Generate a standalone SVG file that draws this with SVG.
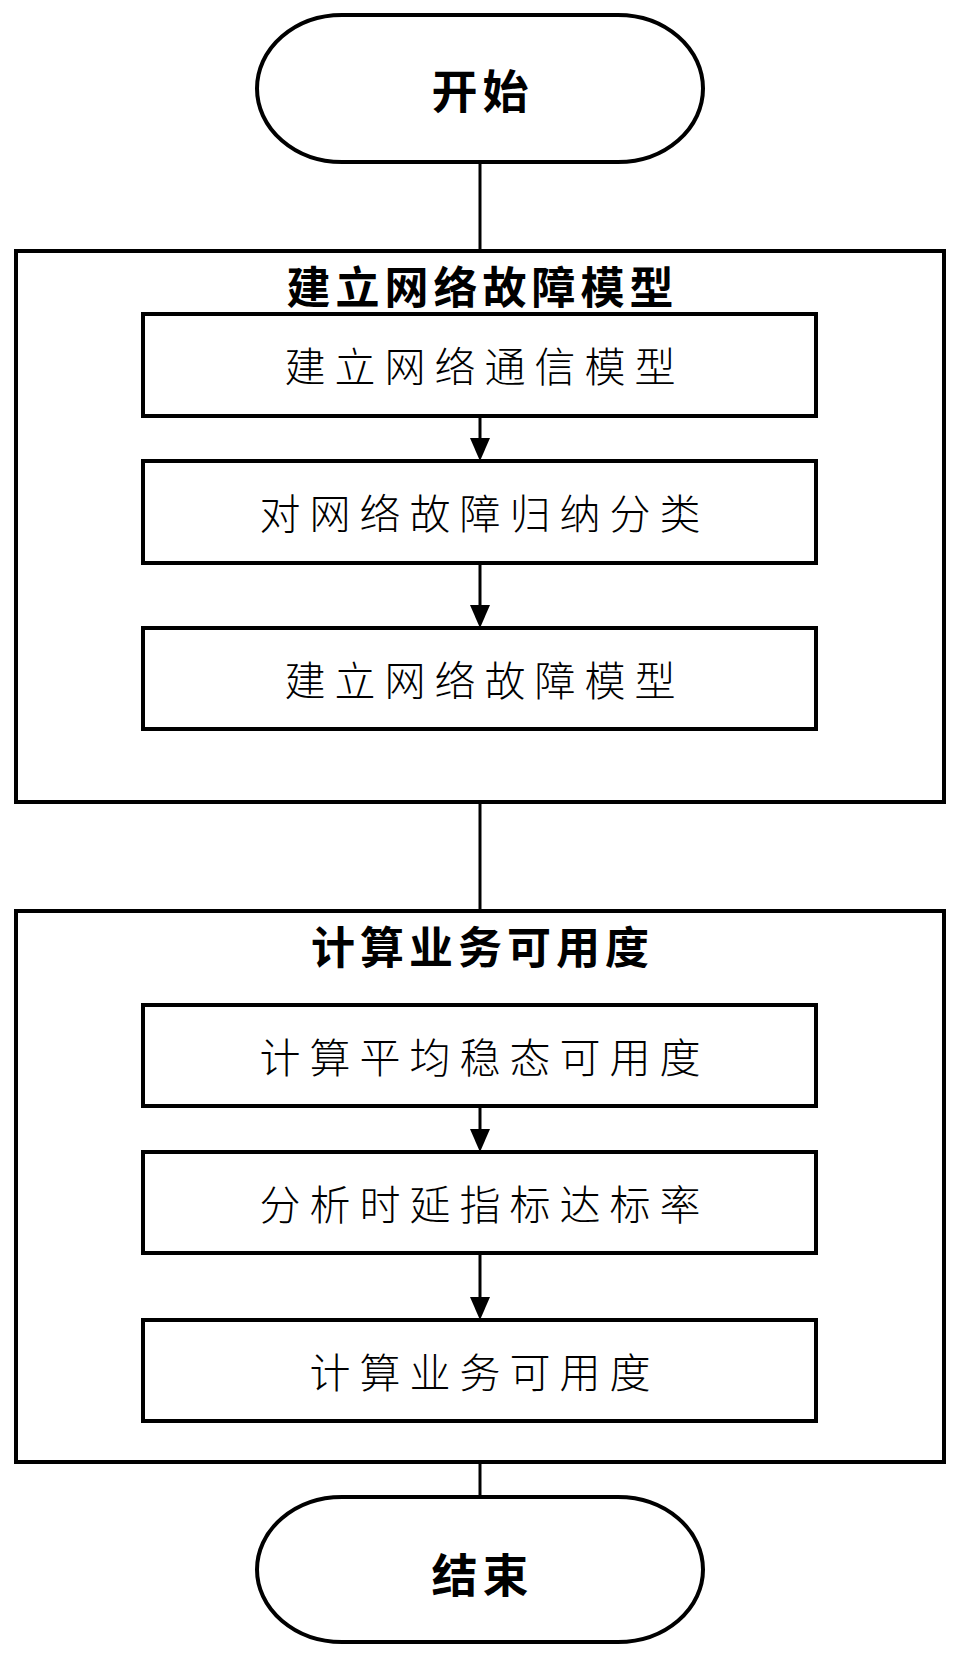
<svg xmlns="http://www.w3.org/2000/svg" width="959" height="1661" viewBox="0 0 959 1661">
<style>
  .frame { fill: none; stroke: #000; stroke-width: 4; }
  .box { fill: #fff; stroke: #000; stroke-width: 4; }
  .term { fill: #fff; stroke: #000; stroke-width: 4; }
  .conn { stroke: #000; stroke-width: 3; fill: none; }
  .head { fill: #000; }
  .label { font-family: "Noto Sans CJK SC", "Noto Sans", sans-serif; font-size: 41px; font-weight: 300; letter-spacing: 9px; fill: #000; text-anchor: middle; dominant-baseline: central; }
  .title { font-family: "Noto Sans CJK SC", "Noto Sans", sans-serif; font-size: 44px; font-weight: 700; letter-spacing: 5px; fill: #000; text-anchor: middle; dominant-baseline: central; }
  .term-text { font-family: "Noto Sans CJK SC", "Noto Sans", sans-serif; font-size: 46px; font-weight: 700; letter-spacing: 5px; fill: #000; text-anchor: middle; dominant-baseline: central; }
</style>

<g id="connectors">
  <line class="conn" x1="480" y1="162" x2="480" y2="251"/>
  <line class="conn" x1="480" y1="416" x2="480" y2="438"/>
  <path class="head" d="M470,438 L490,438 L480,461 Z"/>
  <line class="conn" x1="480" y1="563" x2="480" y2="605"/>
  <path class="head" d="M470,605 L490,605 L480,628 Z"/>
  <line class="conn" x1="480" y1="802" x2="480" y2="911"/>
  <line class="conn" x1="480" y1="1106" x2="480" y2="1129"/>
  <path class="head" d="M470,1129 L490,1129 L480,1152 Z"/>
  <line class="conn" x1="480" y1="1253" x2="480" y2="1297"/>
  <path class="head" d="M470,1297 L490,1297 L480,1320 Z"/>
  <line class="conn" x1="480" y1="1462" x2="480" y2="1497"/>
</g>

<g id="start">
  <rect class="term" x="257" y="15" width="446" height="147" rx="85" ry="73.5"/>
  <text class="term-text" x="482.5" y="88">开始</text>
</g>

<g id="group-fault-model">
  <rect class="frame" x="16" y="251" width="928" height="551"/>
  <text class="title" x="482.5" y="285">建立网络故障模型</text>
</g>

<g id="node-comm-model">
  <rect class="box" x="143" y="314" width="673" height="102"/>
  <text class="label" x="484.5" y="364">建立网络通信模型</text>
</g>

<g id="node-classify">
  <rect class="box" x="143" y="461" width="673" height="102"/>
  <text class="label" x="484.5" y="511">对网络故障归纳分类</text>
</g>

<g id="node-fault-model">
  <rect class="box" x="143" y="628" width="673" height="101"/>
  <text class="label" x="484.5" y="678">建立网络故障模型</text>
</g>

<g id="group-availability">
  <rect class="frame" x="16" y="911" width="928" height="551"/>
  <text class="title" x="482.5" y="945">计算业务可用度</text>
</g>

<g id="node-steady">
  <rect class="box" x="143" y="1005" width="673" height="101"/>
  <text class="label" x="484.5" y="1055">计算平均稳态可用度</text>
</g>

<g id="node-delay">
  <rect class="box" x="143" y="1152" width="673" height="101"/>
  <text class="label" x="484.5" y="1202">分析时延指标达标率</text>
</g>

<g id="node-service">
  <rect class="box" x="143" y="1320" width="673" height="101"/>
  <text class="label" x="484.5" y="1370">计算业务可用度</text>
</g>

<g id="end">
  <rect class="term" x="257" y="1497" width="446" height="145" rx="85" ry="72.5"/>
  <text class="term-text" x="482.5" y="1572">结束</text>
</g>
</svg>
